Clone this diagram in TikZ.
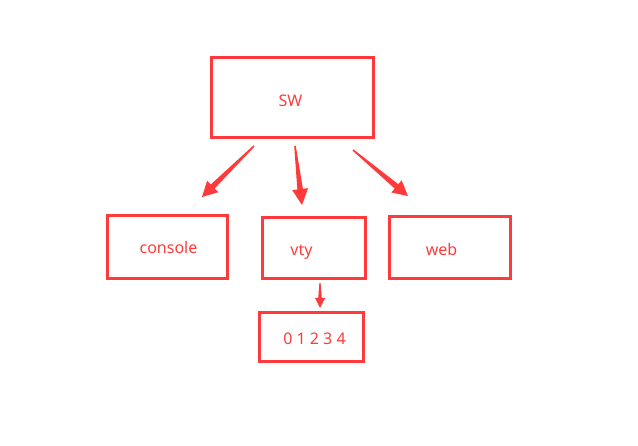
\documentclass[tikz,border=0pt]{standalone}
\usepackage{fontspec}
\setmainfont{Noto Sans}
\usetikzlibrary{calc}
\definecolor{rd}{RGB}{255,58,58}
\tikzset{
  box/.style={draw=rd,line width=3pt,inner sep=0pt},
  lbl/.style={text=rd,font=\fontsize{16}{18}\selectfont,anchor=base,inner sep=0pt},
}
% tapered arrow: start, end, head length, head half width, shaft start half width, shaft end half width
\newcommand\taperarrow[6]{%
  \fill[rd] let \p1=($(#2)!#3!(#1)$) in
    ($(#1)!#5!90:(#2)$) -- ($(\p1)!#6!-90:(#1)$) -- ($(\p1)!#4!-90:(#1)$) -- (#2)
    -- ($(\p1)!#4!90:(#1)$) -- ($(\p1)!#6!90:(#1)$) -- ($(#1)!#5!-90:(#2)$) -- cycle;}
\begin{document}
\begin{tikzpicture}[x=1pt,y=-1pt]
\useasboundingbox (0,0) rectangle (638,446);
\node[box,minimum width=162pt,minimum height=80pt] (sw) at (292,98) {};
\node[box,minimum width=120pt,minimum height=63pt] (console) at (167,247.5) {};
\node[box,minimum width=103pt,minimum height=61pt] (vty) at (313.5,248.5) {};
\node[box,minimum width=121pt,minimum height=62pt] (web) at (449.5,248) {};
\node[box,minimum width=104pt,minimum height=49pt] (nums) at (311,337.5) {};
\node[lbl] (swt) at (290.5,107) {SW};
\node[lbl] (consolet) at (168.5,254) {console};
\node[lbl] (vtyt) at (301.5,256) {vty};
\node[lbl] (webt) at (441.5,256) {web};
\node[lbl] (numst) at (314.5,345) {0 1 2 3 4};
\coordinate (a1s) at (254,146); \coordinate (a1e) at (202,197);
\coordinate (a2s) at (295,146); \coordinate (a2e) at (302,205);
\coordinate (a3s) at (353,150); \coordinate (a3e) at (408,196);
\coordinate (a4s) at (320,283); \coordinate (a4e) at (320,308);
\taperarrow{a1s}{a1e}{15pt}{8pt}{0.8pt}{2.8pt}
\taperarrow{a2s}{a2e}{16pt}{8pt}{0.8pt}{2.8pt}
\taperarrow{a3s}{a3e}{15pt}{8pt}{0.8pt}{2.8pt}
\taperarrow{a4s}{a4e}{10pt}{5pt}{0.6pt}{1.8pt}
\end{tikzpicture}
\end{document}
